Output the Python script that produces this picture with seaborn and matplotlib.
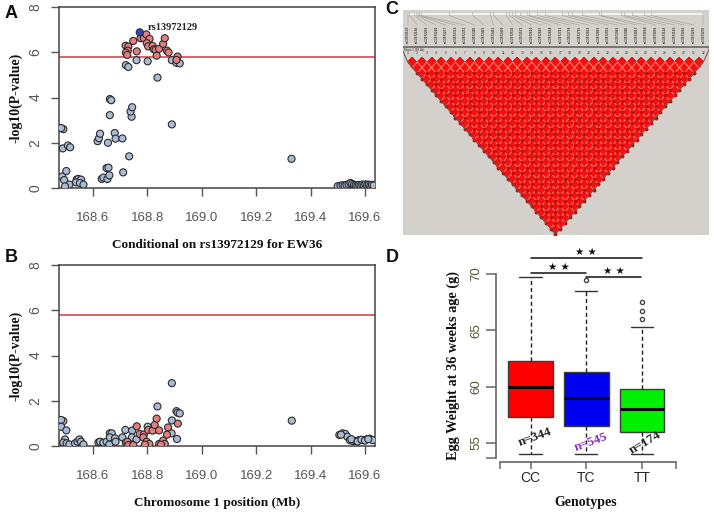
import numpy as np
import pandas as pd
import matplotlib
matplotlib.use("Agg")
import matplotlib.pyplot as plt
from matplotlib.transforms import Affine2D
import seaborn as sns

# Panel A, conditional association (position Mb, -log10 P)
a_blue_x = [168.491, 168.483, 168.489, 168.508, 168.516, 168.487, 168.502, 168.494, 168.513, 168.497,
            168.540, 168.546, 168.556, 168.538, 168.552, 168.565, 168.632, 168.638, 168.653, 168.660,
            168.650, 168.657, 168.617, 168.622, 168.626, 168.655, 168.680, 168.683, 168.708, 168.662,
            168.662, 168.667, 168.711, 168.733, 168.742, 168.738, 168.744, 168.721, 168.730, 168.760,
            168.801, 168.837, 168.890, 168.890, 168.907, 168.919, 169.330,
            169.500, 169.510, 169.518, 169.525, 169.532, 169.540, 169.547, 169.553, 169.560, 169.566,
            169.572, 169.578, 169.584, 169.590, 169.596, 169.602, 169.608, 169.614, 169.620, 169.626, 169.632]
a_blue_y = [2.60, 2.65, 1.75, 1.88, 1.80, 0.51, 0.75, 0.35, 0.15, 0.07,
            0.37, 0.40, 0.37, 0.25, 0.22, 0.15, 0.40, 0.46, 0.40, 0.56,
            0.88, 0.90, 2.07, 2.20, 2.40, 2.00, 2.43, 2.18, 2.19, 3.22,
            3.93, 3.88, 0.69, 1.40, 3.15, 3.38, 3.57, 5.43, 5.35, 5.65,
            5.60, 4.88, 2.81, 5.65, 5.53, 5.51, 1.29,
            0.08, 0.10, 0.12, 0.10, 0.14, 0.17, 0.22, 0.18, 0.14, 0.12,
            0.10, 0.14, 0.11, 0.15, 0.12, 0.16, 0.13, 0.15, 0.12, 0.14, 0.11]
a_red_x = [168.720, 168.730, 168.728, 168.721, 168.726, 168.748, 168.761, 168.775, 168.787, 168.796,
           168.808, 168.798, 168.803, 168.819, 168.824, 168.830, 168.834, 168.843, 168.858, 168.864,
           168.872, 168.878, 168.911, 168.907]
a_red_y = [6.29, 6.25, 6.07, 5.98, 5.88, 6.50, 6.04, 6.62, 6.62, 6.79,
           6.59, 6.40, 6.26, 6.28, 6.13, 6.10, 5.85, 6.15, 6.37, 6.62,
           6.07, 5.99, 5.81, 5.66]
lead_x = [168.772]
lead_y = [6.88]

# Panel B
b_blue_x = [168.491, 168.483, 168.483, 168.502, 168.497, 168.491, 168.503, 168.513, 168.534, 168.543,
            168.550, 168.556, 168.565, 168.620, 168.626, 168.638, 168.650, 168.660, 168.662, 168.669,
            168.662, 168.681, 168.683, 168.708, 168.719, 168.721, 168.744, 168.743, 168.760, 168.801,
            168.837, 168.890, 168.907, 168.911, 168.919, 168.890, 168.889, 168.909, 169.331,
            169.506, 169.518, 169.528, 169.535, 169.545, 169.555, 169.567, 169.579, 169.594, 169.606,
            169.618, 169.628, 169.512, 169.550, 169.573, 169.587, 169.600, 169.612]
b_blue_y = [1.10, 1.15, 0.85, 0.69, 0.29, 0.15, 0.12, 0.07, 0.12, 0.19,
            0.29, 0.19, 0.07, 0.16, 0.19, 0.15, 0.19, 0.07, 0.56, 0.56,
            0.38, 0.34, 0.19, 0.38, 0.71, 0.15, 0.68, 0.38, 0.29, 0.85,
            1.75, 2.78, 1.54, 1.47, 1.44, 1.13, 0.56, 0.31, 1.12,
            0.49, 0.56, 0.53, 0.41, 0.26, 0.22, 0.22, 0.26, 0.26, 0.29,
            0.32, 0.26, 0.50, 0.30, 0.20, 0.28, 0.24, 0.30]
b_red_x = [168.761, 168.772, 168.787, 168.785, 168.803, 168.824, 168.819, 168.827, 168.834, 168.843,
           168.876, 168.872, 168.912, 168.726, 168.730, 168.748, 168.797, 168.807, 168.791, 168.843,
           168.858, 168.864, 168.850]
b_red_y = [0.87, 0.53, 0.51, 0.38, 0.71, 0.71, 0.68, 0.93, 1.21, 0.69,
           0.82, 0.50, 0.99, 0.19, 0.04, 0.04, 0.19, 0.09, 0.06, 0.09,
           0.24, 0.09, 0.06]

threshold = 5.8
pos_ticks = [168.6, 168.8, 169.0, 169.2, 169.4, 169.6]

# Panel C, physical ruler stops of the 32 SNPs (relative to the ruler), D' is 1 everywhere
ruler_stops = [0, 2, 7, 9, 11, 12, 14, 42, 65, 83, 86, 99, 102, 105, 108, 113, 120, 122, 130, 138,
               155, 161, 165, 175, 192, 194, 214, 217, 225, 237, 244, 296]
n_snps = 32
# the labels in the picture are too small to read, these stand in for them
snp_labels = ["rs1397%04d" % (2129 + k * 37) for k in range(n_snps)]
snp_numbers = [str(k + 1) for k in range(n_snps)]

# Panel D, sorted values that give the quartiles, whiskers and outliers
cc_weights = [54.0, 57.3, 60.0, 62.3, 69.7]
tc_weights = [54.0, 54.0, 56.5, 56.5, 59.0, 59.0, 61.3, 68.45, 69.5]
tt_weights = [54.0, 54.0, 54.0, 54.0, 56.0, 56.0, 56.0, 56.0, 58.0, 58.0, 58.0, 58.0, 59.8, 65.3, 66.0, 66.7, 67.5]
genotypes = ["CC", "TC", "TT"]
counts = ["n=344", "n=545", "n=174"]

W, H = 714, 515
sns.set_style("white")
plt.rcParams["font.family"] = ["Liberation Sans", "DejaVu Sans"]
SERIF = ["Liberation Serif", "DejaVu Serif"]
GREY = "#555555"
fig = plt.figure(figsize=(W / 100, H / 100), dpi=100)


def axes_px(left, top, right, bottom):
    return fig.add_axes([left / W, 1 - bottom / H, (right - left) / W, (bottom - top) / H])


def assoc_panel(ax, blue_x, blue_y, red_x, red_y, xlabel, top_x=None, top_y=None):
    df = pd.concat([
        pd.DataFrame({"pos": blue_x, "logp": blue_y, "group": "other"}),
        pd.DataFrame({"pos": red_x, "logp": red_y, "group": "ld"}),
    ])
    if top_x is not None:
        df = pd.concat([df, pd.DataFrame({"pos": top_x, "logp": top_y, "group": "lead"})])
    ax.axhline(threshold, color="#d8595a", lw=1.3, zorder=1)
    sns.scatterplot(data=df, x="pos", y="logp", hue="group", ax=ax, legend=False, s=26,
                    palette={"other": "#a9bcd6", "ld": "#e27f80", "lead": "#3547b8"},
                    edgecolor="#2b2b2b", linewidth=0.8, zorder=3, clip_on=True)
    ax.set_xlim(168.475, 169.637)
    ax.set_ylim(0, 8)
    ax.set_xticks(pos_ticks)
    ax.set_xticklabels(["%.1f" % t for t in pos_ticks], color=GREY, fontsize=9.5)
    ax.set_yticks([0, 2, 4, 6, 8])
    ax.set_yticklabels(["0", "2", "4", "6", "8"], rotation=90, va="center", color=GREY, fontsize=10)
    ax.tick_params(axis="y", length=6, width=1, color=GREY, left=True, pad=6)
    ax.tick_params(axis="x", length=6, width=1, color=GREY, bottom=True, pad=11)
    for s in ax.spines.values():
        s.set_color("#444444")
        s.set_linewidth(1.1)
    ax.set_xlabel(xlabel, family=SERIF, weight="bold", fontsize=9.5, labelpad=11, color="#111111")
    ax.set_ylabel("-log10(P-value)", family=SERIF, weight="bold", fontsize=10, labelpad=4, color="#111111")


ax_a = axes_px(59, 7, 375, 188)
assoc_panel(ax_a, a_blue_x, a_blue_y, a_red_x, a_red_y, "Conditional on rs13972129 for EW36", lead_x, lead_y)
ax_a.text(168.80, 7.1, "rs13972129", family=SERIF, weight="bold", fontsize=7.5, color="#222222", va="center")

ax_b = axes_px(59, 265, 375, 446)
assoc_panel(ax_b, b_blue_x, b_blue_y, b_red_x, b_red_y, "Chromosome 1 position (Mb)")

# Panel C, LD triangle: heatmap cells sheared into diamonds
ax_c = axes_px(402.5, 10, 709, 235)
dprime = np.ones((n_snps - 1, n_snps - 1))
mask = np.tril(np.ones_like(dprime, dtype=bool), k=-1)
sns.heatmap(dprime, mask=mask, ax=ax_c, cbar=False, vmin=0, vmax=1,
            cmap=sns.color_palette(["#f50f0f"], as_cmap=True), linewidths=0,
            xticklabels=False, yticklabels=False)
x0, dx = 407.7, 9.535
y0, dy = 56.5, 11.1
to_px = Affine2D.from_values(dx / 2, dy / 2, dx / 2, -dy / 2, x0, y0 + dy / 2)
ax_c.collections[0].set_transform(to_px + ax_c.transData)
ax_c.set_facecolor("#d4d1cc")
ax_c.set_xlim(402.5, 709)
ax_c.set_ylim(235, 10)
ax_c.axis("on")
for s in ax_c.spines.values():
    s.set_visible(False)

# cell borders, along the two diagonals of the triangle
for k in range(n_snps):
    for line in ([[k, k], [n_snps - 1, k]], [[k, 0], [k, k]]):
        pts = to_px.transform(np.array(line, dtype=float))
        ax_c.plot(pts[:, 0], pts[:, 1], color="#fb7f70", lw=0.8, zorder=2)

# dark centres of the cells (all pairs more than one step apart)
i_idx, j_idx = np.triu_indices(n_snps, k=2)
cx = x0 + (i_idx + j_idx) / 2 * dx
cy = y0 + (j_idx - i_idx) * dy / 2 + dy / 2
ax_c.scatter(cx, cy, s=8, color="#c60f0f", linewidths=0, zorder=3)

snp_x = x0 + np.arange(n_snps) * dx
apex_x = x0 + (n_snps - 1) / 2 * dx
apex_y = y0 + 16 * dy
ax_c.plot([402.5, 402.5, x0, apex_x, snp_x[-1], 709, 709], [47, 50, y0 + dy / 2, apex_y, y0 + dy / 2, 50, 47],
          color="#6b4a45", lw=0.7, zorder=4)
ax_c.plot([402.5, 709], [47, 47], color="#77736e", lw=1.4, zorder=4)
ax_c.plot([snp_x[0], snp_x[-1]], [14, 14], color="#fbfbf9", lw=1.1, zorder=2)
ruler_x = snp_x[0] + np.array(ruler_stops) * (snp_x[-1] - snp_x[0]) / ruler_stops[-1]
for k in range(n_snps):
    ax_c.plot([ruler_x[k], ruler_x[k], snp_x[k]], [12.5, 15.5, 25], color="#9c9a95", lw=0.35, zorder=3)
    ax_c.text(snp_x[k], 34, snp_labels[k], rotation=90, ha="center", va="center", fontsize=2.3,
              weight="bold", color="#3f3f3f")
    ax_c.text(snp_x[k], 53.5, snp_numbers[k], ha="center", va="center", fontsize=2.4, color="#333333")
ax_c.text(404, 49.5, "Block 1 (90 kb)", fontsize=2.2, color="#333333", va="center")

# Panel D
ax_d = axes_px(496, 274, 676, 458)
box_df = pd.DataFrame({
    "genotype": ["CC"] * len(cc_weights) + ["TC"] * len(tc_weights) + ["TT"] * len(tt_weights),
    "weight": cc_weights + tc_weights + tt_weights,
})
sns.boxplot(data=box_df, x="genotype", y="weight", hue="genotype", order=genotypes, ax=ax_d, legend=False,
            palette={"CC": "#ff0000", "TC": "#0000f0", "TT": "#00f000"}, width=0.8, dodge=False, saturation=1,
            linecolor="#222222", linewidth=1.0, fliersize=3.0, whis=1.5,
            boxprops={"edgecolor": "#3c3c3c"},
            whiskerprops={"linestyle": (0, (3, 2)), "color": "#222222"},
            capprops={"color": "#333333"},
            medianprops={"color": "#0a0a0a", "linewidth": 2.2},
            flierprops={"markerfacecolor": "white", "markeredgecolor": "#444444"})
ax_d.set_xlim(-0.619, 2.61)
ax_d.set_ylim(53.66, 70)
ax_d.set_xticks([-0.55, 0, 1, 2, 2.61])
ax_d.set_xticklabels(["", "CC", "TC", "TT", ""], color="#333333", fontsize=9.5)
ax_d.set_yticks([53.66, 55, 60, 65, 70])
ax_d.set_yticklabels(["", "55", "60", "65", "70"], rotation=90, va="center", color="#555533", fontsize=9.5)
ax_d.tick_params(axis="y", length=7, width=1.1, color="#666666", left=True, pad=3)
ax_d.tick_params(axis="x", length=5, width=1.1, color="#666666", bottom=True, pad=1)
sns.despine(ax=ax_d, top=True, right=True)
ax_d.spines["left"].set_color("#666666")
ax_d.spines["left"].set_linewidth(1.2)
ax_d.spines["left"].set_bounds(53.66, 70)
ax_d.spines["bottom"].set_color("#666666")
ax_d.spines["bottom"].set_linewidth(1.2)
ax_d.spines["bottom"].set_position(("outward", 3))
ax_d.spines["bottom"].set_bounds(-0.55, 2.61)
ax_d.set_xlabel("Genotypes", family=SERIF, weight="bold", fontsize=10, labelpad=8, color="#111111")
ax_d.set_ylabel("Egg Weight at 36 weeks age (g)", family=SERIF, weight="bold", fontsize=10.3, labelpad=7,
                color="#111111")

# significance bars
for xa, xb, yb in [(0, 2, 71.45), (0, 1, 70.1), (1, 1.98, 69.7)]:
    ax_d.plot([xa, xb], [yb, yb], color="#111111", lw=1.1, clip_on=False)
    ax_d.text((xa + xb) / 2, yb + 0.1, "★ ★", ha="center", va="bottom", fontsize=7.5,
              family="DejaVu Sans", color="#111111", clip_on=False)

for k, (label, col, rot, yy) in enumerate(zip(counts, ["#222222", "#8a2fc4", "#222222"], [20, 20, 30],
                                              [55.5, 55.1, 55.0])):
    ax_d.text(k + (0.08 if k != 2 else 0.05), yy, label, rotation=rot, ha="center", va="center",
              family=SERIF, weight="bold", fontsize=9.5, color=col, zorder=6)

for letter, px, py in [("A", 11, 13), ("B", 11, 258), ("C", 392, 10), ("D", 392, 258)]:
    fig.text(px / W, 1 - py / H, letter, fontsize=13, weight="bold", ha="center", va="center", color="#111111")

fig.savefig("out.png", dpi=100, facecolor="white")
